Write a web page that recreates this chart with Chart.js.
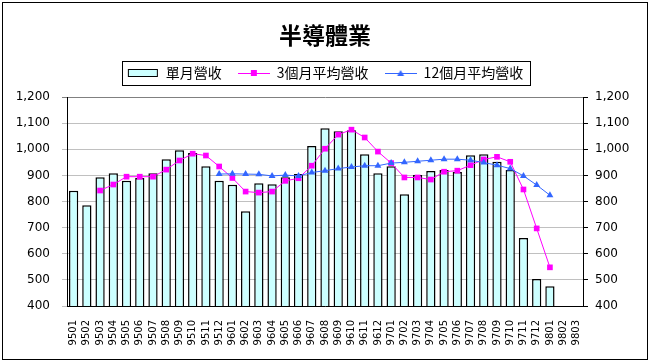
<!DOCTYPE html>
<html>
<head>
<meta charset="utf-8">
<title>半導體業</title>
<script src="https://cdn.jsdelivr.net/npm/chart.js@4.4.1/dist/chart.umd.min.js"></script>
<style>
  body { margin: 0; background: #fff; }
</style>
</head>
<body>
<canvas id="barChart" width="650" height="364"></canvas>
<script>
// Month labels (ROC year + month)
const labels = [
    '9501', '9502', '9503', '9504', '9505', '9506', '9507', '9508', '9509', '9510', '9511', '9512',
    '9601', '9602', '9603', '9604', '9605', '9606', '9607', '9608', '9609', '9610', '9611', '9612',
    '9701', '9702', '9703', '9704', '9705', '9706', '9707', '9708', '9709', '9710', '9711', '9712',
    '9801', '9802', '9803'
];

// Monthly revenue (bars)
const monthly = [
    841, 786, 893, 908, 879, 890, 908, 962, 996, 986, 935, 879,
    864, 763, 870, 866, 893, 905, 1012, 1080, 1069, 1073, 981, 908,
    935, 828, 901, 917, 921, 913, 977, 981, 952, 921, 660, 503,
    476, null, null
];

// 3 month average
const avg3 = [
    null, null, 842, 865, 895, 895, 895, 922, 957, 983, 976, 934,
    890, 838, 834, 838, 879, 889, 937, 1002, 1056, 1075, 1045, 991,
    947, 892, 892, 884, 914, 918, 939, 961, 971, 952, 846, 697,
    548, null, null
];

// 12 month average
const avg12 = [
    null, null, null, null, null, null, null, null, null, null, null, 905,
    906, 905, 904, 898, 901, 898, 911, 918, 926, 932, 937, 937,
    947, 950, 954, 958, 962, 962, 958, 949, 939, 926, 898, 863,
    824, null, null
];

// Y axis range
const yMin = 400;
const yMax = 1200;
const yStep = 100;

const seriesNames = ['單月營收', '3個月平均營收', '12個月平均營收'];

const barColor = '#CCFFFF';
const pinkColor = '#FF00FF';
const blueColor = '#3366FF';

// Small legend pictures, like the ones in Excel
function makeSwatch(kind) {
    const c = document.createElement('canvas');
    c.width = 32;
    c.height = 10;
    const g = c.getContext('2d');
    if (kind === 'bar') {
        g.fillStyle = barColor;
        g.fillRect(1, 1, 30, 8);
        g.strokeStyle = '#000';
        g.lineWidth = 1;
        g.strokeRect(1.5, 1.5, 29, 7);
        return c;
    }
    const col = kind === 'square' ? pinkColor : blueColor;
    g.strokeStyle = col;
    g.fillStyle = col;
    g.lineWidth = 1;
    g.beginPath();
    g.moveTo(0, 5.5);
    g.lineTo(32, 5.5);
    g.stroke();
    if (kind === 'square') {
        g.fillRect(13, 2, 6, 6);
    } else {
        g.beginPath();
        g.moveTo(16, 2);
        g.lineTo(19.5, 8);
        g.lineTo(12.5, 8);
        g.closePath();
        g.fill();
    }
    return c;
}
const swatches = [makeSwatch('bar'), makeSwatch('square'), makeSwatch('triangle')];

// Frame around the whole picture and around the legend
const frames = {
    id: 'frames',
    afterDraw(chart) {
        const ctx = chart.ctx;
        ctx.save();
        ctx.strokeStyle = '#000';
        ctx.lineWidth = 1;
        ctx.strokeRect(2.5, 2.5, 645, 357);

        const boxes = chart.legend.legendHitBoxes;
        if (boxes && boxes.length) {
            let left = Infinity, right = -Infinity, top = Infinity, bottom = -Infinity;
            boxes.forEach(b => {
                left = Math.min(left, b.left);
                right = Math.max(right, b.left + b.width);
                top = Math.min(top, b.top);
                bottom = Math.max(bottom, b.top + b.height);
            });
            ctx.strokeRect(Math.round(left - 5) + 0.5, Math.round(top - 5) + 0.5,
                Math.round(right - left + 12), Math.round(bottom - top + 10));
        }
        ctx.restore();
    }
};

const axisFont = { family: "'DejaVu Sans'", size: 12 };

const ctx = document.getElementById('barChart').getContext('2d');
const chart = new Chart(ctx, {
    type: 'bar',
    data: {
        labels: labels,
        datasets: [
            {
                type: 'bar',
                label: seriesNames[0],
                data: monthly,
                backgroundColor: barColor,
                borderColor: '#000',
                borderWidth: 1.5,
                borderSkipped: 'start',
                categoryPercentage: 1,
                barPercentage: 0.7,
                yAxisID: 'y',
                order: 2
            },
            {
                type: 'line',
                label: seriesNames[1],
                data: avg3,
                borderColor: pinkColor,
                backgroundColor: pinkColor,
                borderWidth: 1,
                pointStyle: 'rect',
                pointRadius: 4,
                pointBorderWidth: 0,
                tension: 0,
                yAxisID: 'y',
                order: 1
            },
            {
                type: 'line',
                label: seriesNames[2],
                data: avg12,
                borderColor: blueColor,
                backgroundColor: blueColor,
                borderWidth: 1,
                pointStyle: 'triangle',
                pointRadius: 4,
                pointBorderWidth: 0,
                tension: 0,
                yAxisID: 'y',
                order: 0
            }
        ]
    },
    options: {
        responsive: false,
        animation: false,
        devicePixelRatio: 1,
        layout: {
            padding: { left: 3, right: 3, top: 0, bottom: 0 }
        },
        plugins: {
            title: {
                display: true,
                text: '半導體業',
                color: '#000',
                font: { family: "'Noto Sans CJK TC'", size: 23, weight: 'bold', lineHeight: 1.2 },
                padding: { top: 21, bottom: 1.4 }
            },
            // empty spacer between legend and plot
            subtitle: {
                display: true,
                text: '',
                weight: 500,
                font: { size: 7, lineHeight: 1 },
                padding: 0
            },
            legend: {
                display: true,
                position: 'top',
                labels: {
                    usePointStyle: true,
                    pointStyleWidth: 32,
                    boxHeight: 10,
                    padding: 16,
                    color: '#000',
                    font: { family: "'Noto Sans CJK TC'", size: 14 },
                    generateLabels: chart => chart.data.datasets.map((ds, i) => ({
                        text: ds.label,
                        pointStyle: swatches[i],
                        fillStyle: 'transparent',
                        strokeStyle: 'transparent',
                        lineWidth: 0,
                        fontColor: '#000',
                        hidden: false,
                        datasetIndex: i
                    }))
                }
            },
            tooltip: { enabled: false }
        },
        scales: {
            x: {
                grid: { display: false, drawTicks: false },
                border: { color: '#000', width: 1 },
                ticks: {
                    autoSkip: false,
                    minRotation: 90,
                    maxRotation: 90,
                    padding: 14,
                    color: '#000',
                    font: { family: "'DejaVu Sans'", size: 10 }
                },
                afterFit: s => { s.height = 58; }
            },
            y: {
                position: 'left',
                min: yMin,
                max: yMax,
                grid: {
                    color: c => (c.tick && c.tick.value === yMax ? '#808080' : '#C0C0C0'),
                    tickLength: 5
                },
                border: { color: '#000', width: 1 },
                ticks: {
                    stepSize: yStep,
                    padding: 12,
                    color: '#000',
                    font: axisFont,
                    callback: v => v.toLocaleString('en-US')
                },
                afterFit: s => { s.width = 64; }
            },
            y2: {
                position: 'right',
                min: yMin,
                max: yMax,
                grid: { drawOnChartArea: false, color: '#000', tickLength: 5 },
                border: { color: '#000', width: 1 },
                ticks: {
                    stepSize: yStep,
                    padding: 7,
                    color: '#000',
                    font: axisFont,
                    callback: v => v.toLocaleString('en-US')
                },
                afterFit: s => { s.width = 64; }
            }
        }
    },
    plugins: [frames]
});
</script>
</body>
</html>
